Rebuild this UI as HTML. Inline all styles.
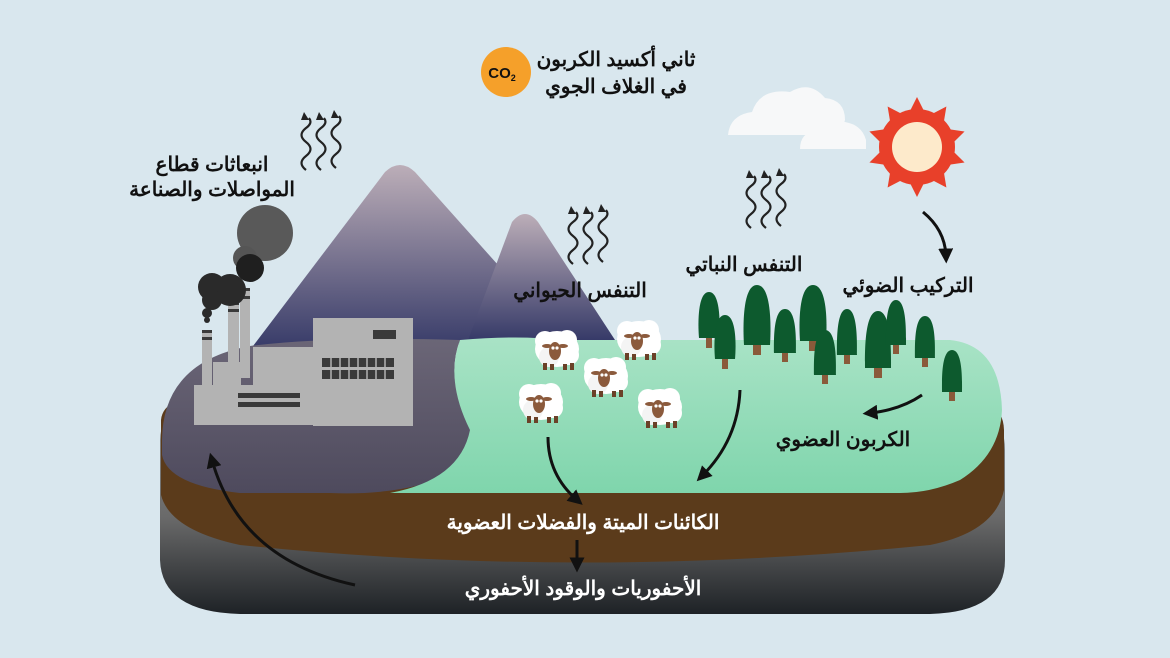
<!DOCTYPE html>
<html><head><meta charset="utf-8"><style>
html,body{margin:0;padding:0;background:#d9e7ee;}
svg{display:block}
text{font-family:"Liberation Sans","Noto Sans CJK SC",sans-serif;font-weight:bold;}
</style></head><body>
<svg width="1170" height="658" viewBox="0 0 1170 658" xmlns="http://www.w3.org/2000/svg">
<defs>
<linearGradient id="mt" x1="0" y1="0" x2="0" y2="1"><stop offset="0" stop-color="#bcaeb8"/><stop offset="1" stop-color="#363a68"/></linearGradient>
<linearGradient id="rock" x1="0" y1="0" x2="0" y2="1"><stop offset="0" stop-color="#8a8a88"/><stop offset="0.55" stop-color="#6a6a6a"/><stop offset="1" stop-color="#1e2226"/></linearGradient>
<linearGradient id="pur" x1="0" y1="0" x2="0" y2="1"><stop offset="0" stop-color="#6b6677"/><stop offset="1" stop-color="#4e4a5d"/></linearGradient>
<linearGradient id="grn" x1="0" y1="0" x2="0" y2="1"><stop offset="0" stop-color="#a9e3c6"/><stop offset="1" stop-color="#7fd5ac"/></linearGradient>
<marker id="ah" viewBox="0 0 10 10" refX="5" refY="5" markerWidth="5" markerHeight="5" orient="auto-start-reverse"><path d="M0,0 L10,5 L0,10 z" fill="#111"/></marker>
<g id="sq"><path d="M6,58 q-9,-7 0,-14 q9,-7 0,-14 q-9,-7 0,-14 q7,-5 3,-10" fill="none" stroke="#222" stroke-width="2.2"/><path d="M4,0 l5,8 l-8,0 z" fill="#222"/></g>
<g id="sheep"><ellipse cx="0" cy="0" rx="22" ry="18" fill="#fff"/><circle cx="-12" cy="-8" r="10" fill="#fff"/><circle cx="10" cy="-9" r="10" fill="#fff"/><circle cx="12" cy="6" r="10" fill="#fff"/><circle cx="-8" cy="8" r="10" fill="#f4f4f4"/><rect x="-14" y="14" width="4" height="7" fill="#6b4128"/><rect x="-7" y="15" width="4" height="6" fill="#6b4128"/><rect x="6" y="15" width="4" height="6" fill="#6b4128"/><rect x="13" y="14" width="4" height="7" fill="#6b4128"/><ellipse cx="-2" cy="2" rx="6" ry="9" fill="#8b5a3c"/><ellipse cx="-10" cy="-3" rx="5" ry="2" fill="#8b5a3c"/><ellipse cx="6" cy="-3" rx="5" ry="2" fill="#8b5a3c"/><circle cx="-4" cy="-1" r="1.6" fill="#fff"/><circle cx="0" cy="-1" r="1.6" fill="#fff"/></g>
</defs>
<rect width="1170" height="658" fill="#d9e7ee"/>

<!-- island base -->
<path d="M160,440 Q160,400 230,398 L940,398 Q1005,400 1005,450 L1005,560 Q1005,612 930,614 L240,614 Q162,612 160,560 Z" fill="url(#rock)"/>
<path d="M161,420 Q163,395 220,392 L950,392 Q1003,394 1004,430 L1004,490 Q995,532 930,545 Q580,580 240,545 Q170,530 161,495 Z" fill="#5b3b1b"/>

<!-- mountains -->
<path d="M250,350 L385,172 Q400,158 415,172 L565,340 Z" fill="url(#mt)"/>
<path d="M468,340 L512,222 Q525,206 538,222 L615,340 Z" fill="url(#mt)"/>

<!-- purple land -->
<path d="M162,440 Q163,362 250,346 Q330,336 460,340 Q445,380 470,420 Q480,470 420,485 Q380,495 330,493 L240,493 Q168,485 162,455 Z" fill="url(#pur)"/>
<!-- green land -->
<path d="M460,340 Q520,335 560,340 L950,340 Q1000,345 1002,410 Q1000,455 960,480 Q930,493 900,493 L390,493 Q460,480 470,430 Q445,380 460,340 Z" fill="url(#grn)"/>

<!-- factory -->
<g fill="#b3b3b3">
<rect x="202" y="330" width="10" height="80"/><rect x="228" y="302" width="11" height="80"/><rect x="240" y="288" width="10" height="90"/>
<rect x="194" y="385" width="60" height="40"/><rect x="213" y="362" width="28" height="30"/>
<rect x="253" y="347" width="60" height="78"/><rect x="313" y="318" width="100" height="108"/>
</g>
<g fill="#3a3a3a">
<rect x="202" y="330" width="10" height="3"/><rect x="202" y="337" width="10" height="3"/>
<rect x="228" y="302" width="11" height="3"/><rect x="228" y="309" width="11" height="3"/>
<rect x="240" y="288" width="10" height="3"/><rect x="240" y="296" width="10" height="3"/>
<rect x="373" y="330" width="23" height="9"/>
<rect x="238" y="393" width="62" height="5"/><rect x="238" y="402" width="62" height="5"/>
<rect x="322" y="358" width="72" height="9"/><rect x="322" y="370" width="72" height="9"/>
</g>
<g stroke="#b3b3b3" stroke-width="1.5"><line x1="331" y1="356" x2="331" y2="381"/><line x1="340" y1="356" x2="340" y2="381"/><line x1="349" y1="356" x2="349" y2="381"/><line x1="358" y1="356" x2="358" y2="381"/><line x1="367" y1="356" x2="367" y2="381"/><line x1="376" y1="356" x2="376" y2="381"/><line x1="385" y1="356" x2="385" y2="381"/></g>
<!-- smoke -->
<circle cx="265" cy="233" r="28" fill="#595959"/><circle cx="245" cy="258" r="12" fill="#555"/>
<circle cx="250" cy="268" r="14" fill="#1f1f1f"/><circle cx="230" cy="290" r="16" fill="#2a2a2a"/><circle cx="212" cy="287" r="14" fill="#2a2a2a"/><circle cx="212" cy="300" r="10" fill="#2a2a2a"/><circle cx="207" cy="313" r="5" fill="#2a2a2a"/><circle cx="207" cy="320" r="3" fill="#2a2a2a"/>

<!-- trees -->
<g>
<g transform="translate(709,292)"><rect x="-3" y="44" width="6" height="12" fill="#8a5a3a"/><path d="M0,0 C12,0 11,35 10,46 L-10,46 C-11,35 -12,0 0,0Z" fill="#0d5a2e"/></g>
<g transform="translate(725,315)"><rect x="-3" y="42" width="6" height="12" fill="#8a5a3a"/><path d="M0,0 C12,0 11,33 10,44 L-10,44 C-11,33 -12,0 0,0Z" fill="#0d5a2e"/></g>
<g transform="translate(757,285)"><rect x="-4" y="57" width="8" height="13" fill="#8a5a3a"/><path d="M0,0 C15,0 14,45 13,60 L-13,60 C-14,45 -15,0 0,0Z" fill="#0d5a2e"/></g>
<g transform="translate(785,309)"><rect x="-3" y="41" width="6" height="12" fill="#8a5a3a"/><path d="M0,0 C12,0 11,32 11,44 L-11,44 C-11,32 -12,0 0,0Z" fill="#0d5a2e"/></g>
<g transform="translate(813,285)"><rect x="-4" y="53" width="8" height="13" fill="#8a5a3a"/><path d="M0,0 C15,0 14,42 13,56 L-13,56 C-14,42 -15,0 0,0Z" fill="#0d5a2e"/></g>
<g transform="translate(825,330)"><rect x="-3" y="42" width="6" height="12" fill="#8a5a3a"/><path d="M0,0 C12,0 11,33 11,45 L-11,45 C-11,33 -12,0 0,0Z" fill="#0d5a2e"/></g>
<g transform="translate(847,309)"><rect x="-3" y="43" width="6" height="12" fill="#8a5a3a"/><path d="M0,0 C11,0 10,35 10,46 L-10,46 C-10,35 -11,0 0,0Z" fill="#0d5a2e"/></g>
<g transform="translate(878,311)"><rect x="-4" y="54" width="8" height="13" fill="#8a5a3a"/><path d="M0,0 C14,0 13,44 13,57 L-13,57 C-13,44 -14,0 0,0Z" fill="#0d5a2e"/></g>
<g transform="translate(896,300)"><rect x="-3" y="42" width="6" height="12" fill="#8a5a3a"/><path d="M0,0 C11,0 10,34 10,45 L-10,45 C-10,34 -11,0 0,0Z" fill="#0d5a2e"/></g>
<g transform="translate(925,316)"><rect x="-3" y="39" width="6" height="12" fill="#8a5a3a"/><path d="M0,0 C11,0 10,31 10,42 L-10,42 C-10,31 -11,0 0,0Z" fill="#0d5a2e"/></g>
<g transform="translate(952,350)"><rect x="-3" y="39" width="6" height="12" fill="#8a5a3a"/><path d="M0,0 C11,0 10,31 10,42 L-10,42 C-10,31 -11,0 0,0Z" fill="#0d5a2e"/></g>
</g>

<!-- sheep -->
<use href="#sheep" x="557" y="349"/>
<use href="#sheep" x="639" y="339"/>
<use href="#sheep" x="606" y="376"/>
<use href="#sheep" x="541" y="402"/>
<use href="#sheep" x="660" y="407"/>

<!-- sun -->
<circle cx="917" cy="147" r="38" fill="#e8402a"/>
<g fill="#e8402a" transform="translate(917,147)">
<path d="M-7,-36 L0,-50 L7,-36Z"/><path d="M-7,-36 L0,-50 L7,-36Z" transform="rotate(36)"/><path d="M-7,-36 L0,-50 L7,-36Z" transform="rotate(72)"/><path d="M-7,-36 L0,-50 L7,-36Z" transform="rotate(108)"/><path d="M-7,-36 L0,-50 L7,-36Z" transform="rotate(144)"/><path d="M-7,-36 L0,-50 L7,-36Z" transform="rotate(180)"/><path d="M-7,-36 L0,-50 L7,-36Z" transform="rotate(216)"/><path d="M-7,-36 L0,-50 L7,-36Z" transform="rotate(252)"/><path d="M-7,-36 L0,-50 L7,-36Z" transform="rotate(288)"/><path d="M-7,-36 L0,-50 L7,-36Z" transform="rotate(324)"/>
</g>
<circle cx="917" cy="147" r="25" fill="#fdeacb"/>

<!-- clouds -->
<g fill="#f7f8f9">
<path d="M728,135 Q730,115 752,112 Q760,88 790,92 Q810,80 825,98 Q845,100 845,120 L840,135 Z"/>
<path d="M800,149 Q800,132 818,130 Q828,115 845,122 Q862,125 866,140 L866,149 Z"/>
</g>

<!-- CO2 -->
<circle cx="506" cy="72" r="25" fill="#f5a02a"/>
<text x="502" y="78" font-size="15" fill="#111" text-anchor="middle" font-weight="normal">CO<tspan font-size="9" dy="3">2</tspan></text>

<!-- squiggles -->
<use href="#sq" x="300" y="112"/><use href="#sq" x="315" y="112"/><use href="#sq" x="330" y="110"/>
<use href="#sq" x="567" y="206"/><use href="#sq" x="582" y="206"/><use href="#sq" x="597" y="204"/>
<use href="#sq" x="745" y="170"/><use href="#sq" x="760" y="170"/><use href="#sq" x="775" y="168"/>

<!-- arrows -->
<g fill="none" stroke="#111" stroke-width="3" marker-end="url(#ah)">
<path d="M923,212 Q945,230 946,256"/>
<path d="M922,395 Q900,410 870,413"/>
<path d="M740,390 Q738,440 702,476"/>
<path d="M548,437 Q548,475 577,500"/>
<path d="M577,540 L577,565"/>
<path d="M355,585 Q240,560 212,460"/>
</g>

<!-- text -->
<g text-anchor="middle" fill="#111" font-size="20">
<text x="616" y="66" direction="rtl">ثاني أكسيد الكربون</text>
<text x="616" y="93" direction="rtl">في الغلاف الجوي</text>
<text x="212" y="171" direction="rtl">انبعاثات قطاع</text>
<text x="212" y="196" direction="rtl">المواصلات والصناعة</text>
<text x="580" y="297" direction="rtl">التنفس الحيواني</text>
<text x="744" y="271" direction="rtl">التنفس النباتي</text>
<text x="908" y="292" direction="rtl">التركيب الضوئي</text>
<text x="843" y="446" direction="rtl">الكربون العضوي</text>
<text x="583" y="529" fill="#fff" direction="rtl">الكائنات الميتة والفضلات العضوية</text>
<text x="583" y="595" fill="#fff" direction="rtl">الأحفوريات والوقود الأحفوري</text>
</g>
</svg>
</body></html>
